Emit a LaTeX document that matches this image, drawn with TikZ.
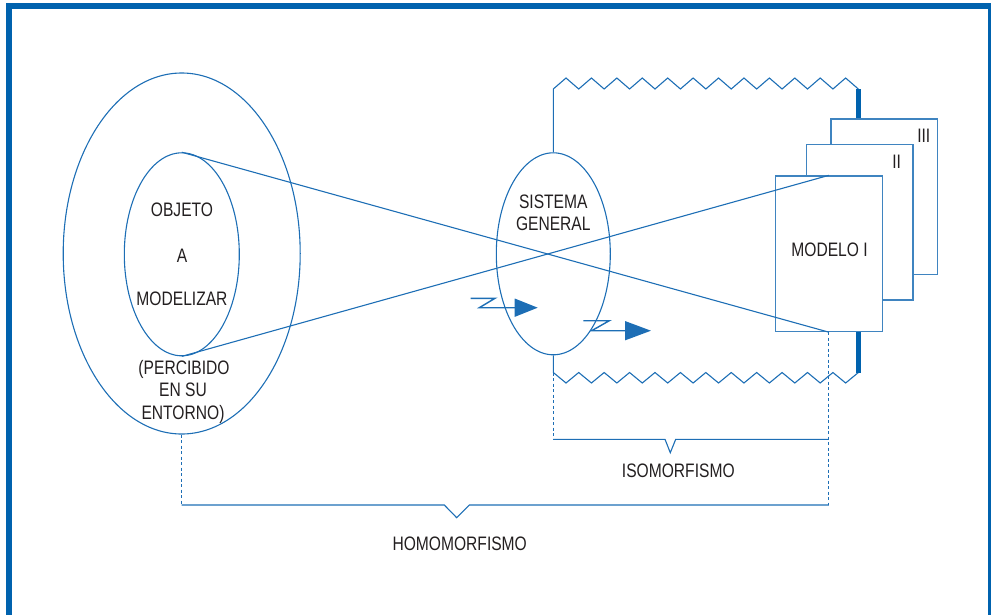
\documentclass[tikz,border=0pt]{standalone}
\usepackage{fontspec}
\setmainfont{Liberation Sans}[FakeStretch=0.8]
\usepackage{tikz}
\usetikzlibrary{shapes,arrows.meta}

\definecolor{frameblue}{HTML}{0062AE}
\definecolor{lineblue}{HTML}{1D6EB5}
\definecolor{textgray}{HTML}{231F20}

\begin{document}
\begin{tikzpicture}[x=1pt,y=-1pt,
  line/.style={draw=lineblue,line width=1.1pt},
  oval/.style={ellipse,draw=lineblue,line width=1.1pt,inner sep=0pt},
  sheet/.style={rectangle,draw=lineblue!85,fill=white,line width=1.4pt,inner sep=0pt,
    minimum width=106.5pt,minimum height=155.5pt,anchor=north west},
  lbl/.style={text=textgray,font=\fontsize{19.5}{23}\selectfont,inner sep=0pt,anchor=base},
  guide/.style={draw=lineblue,line width=1pt,dash pattern=on 3pt off 2.5pt},
  bar/.style={draw=frameblue,line width=4.7pt},
  flow/.style={draw=lineblue,line width=1.4pt}]
\clip (0,0) rectangle (991,614);
% frame
\draw[frameblue,line width=5.5pt] (8.9,620) -- (8.9,5.8) -- (990.5,5.8) -- (990.5,620);

\node[oval,minimum width=237pt,minimum height=361pt] (entorno) at (181.7,253.5) {};
\node[oval,minimum width=115pt,minimum height=203pt] (objeto) at (181.8,254.3) {};
\node[oval,minimum width=114pt,minimum height=202pt] (sistema) at (553.3,253.8) {};

\node[sheet] (modeloIII) at (830.3,118.3) {};
\node[sheet] (modeloII) at (805.7,143.7) {};
\node[sheet] (modeloI) at (775,175.3) {};

\node[lbl] (objLbl) at (182,216) {OBJETO};
\node[lbl] (aLbl) at (182,262) {A};
\node[lbl] (modLbl) at (182,305) {MODELIZAR};
\node[lbl] (perLbl) at (184,374) {(PERCIBIDO};
\node[lbl] (suLbl) at (183,396.7) {EN SU};
\node[lbl] (entLbl) at (183,419) {ENTORNO)};
\node[lbl] (sisLbl) at (553.3,208.3) {SISTEMA};
\node[lbl] (genLbl) at (553.3,230.7) {GENERAL};
\node[lbl] (mILbl) at (829.5,256) {MODELO I};
\node[lbl] (mIILbl) at (896.7,168.3) {II};
\node[lbl] (mIIILbl) at (923.8,142.3) {III};
\node[lbl] (isoLbl) at (678.3,477.3) {ISOMORFISMO};
\node[lbl] (homoLbl) at (459.7,550.7) {HOMOMORFISMO};

\draw[line] (objeto.north) -- (modeloI.south);
\draw[line] (objeto.south) -- (modeloI.north);

\coordinate (topY) at (0,89);
\coordinate (lowY) at (0,372.5);
\coordinate (isoY) at (0,439.3);
\coordinate (homoY) at (0,505);
\coordinate (zzTop) at (858.7,89);
\coordinate (zzLow) at (858.7,372.5);

\draw[line] (sistema.north) -- (sistema.north |- topY)
  \foreach \k in {1,...,12}{ -- ++(12.71,-11) -- ++(12.71,11)};
\draw[line] (sistema.south) -- (sistema.south |- lowY)
  \foreach \k in {1,...,12}{ -- ++(12.71,10.5) -- ++(12.71,-10.5)};
\draw[bar] (zzTop) -- (zzTop |- modeloIII.north);
\draw[bar] (zzLow |- modeloI.south) -- (zzLow);

\draw[guide] (sistema.south |- lowY) -- (sistema.south |- isoY);
\draw[guide] (modeloI.south) -- (modeloI.south |- homoY);
\draw[guide] (entorno.south) -- (entorno.south |- homoY);
\draw[line] (sistema.south |- isoY) -- (665,439.3) -- (670.3,452.7) -- (675.7,439.3)
  -- (modeloI.south |- isoY);
\draw[line] (entorno.south |- homoY) -- (444.3,505) -- (456.7,517.7) -- (469.3,505)
  -- (modeloI.south |- homoY);

\draw[flow,-{Triangle[length=23pt,width=18pt]}] (470.7,298.3) -- (495,298.3) -- (479.3,307.7) -- (537.7,307.7);
\draw[flow,-{Triangle[length=26pt,width=19pt]}] (583.3,320.7) -- (609.3,320.7) -- (591.7,330.7) -- (651,330.7);
\end{tikzpicture}
\end{document}
